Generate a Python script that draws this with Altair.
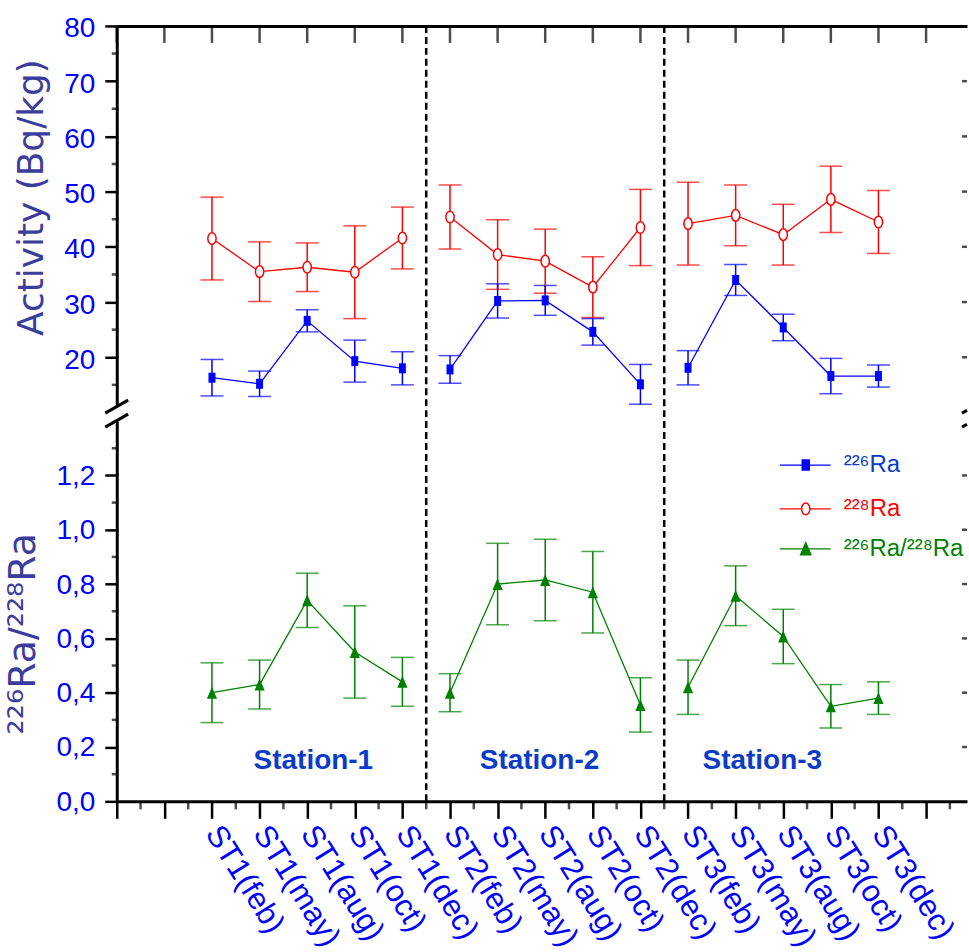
import altair as alt
import pandas as pd

# ---------------- data ----------------
categories = ["ST1(feb)", "ST1(may)", "ST1(aug)", "ST1(oct)", "ST1(dec)",
              "ST2(feb)", "ST2(may)", "ST2(aug)", "ST2(oct)", "ST2(dec)",
              "ST3(feb)", "ST3(may)", "ST3(aug)", "ST3(oct)", "ST3(dec)"]
stations = ["Station-1"] * 5 + ["Station-2"] * 5 + ["Station-3"] * 5

ra226 = [16.3, 15.2, 26.6, 19.3, 18.0, 17.8, 30.2, 30.3, 24.6, 15.1, 18.1, 34.0, 25.4, 16.6, 16.6]
ra226_err = [3.3, 2.3, 2.0, 3.8, 3.0, 2.5, 3.1, 2.7, 2.4, 3.6, 3.1, 2.8, 2.4, 3.2, 2.0]

ra228 = [41.5, 35.5, 36.3, 35.4, 41.6, 45.4, 38.6, 37.4, 32.7, 43.5, 44.2, 45.7, 42.2, 48.6, 44.5]
ra228_err = [7.5, 5.4, 4.4, 8.4, 5.6, 5.8, 6.3, 5.8, 5.5, 6.9, 7.5, 5.5, 5.5, 6.0, 5.7]

ratio = [0.40, 0.43, 0.74, 0.55, 0.44, 0.40, 0.80, 0.815, 0.77, 0.355, 0.42, 0.757, 0.607, 0.35, 0.38]
ratio_err = [0.11, 0.09, 0.10, 0.17, 0.09, 0.07, 0.15, 0.15, 0.15, 0.10, 0.10, 0.11, 0.10, 0.08, 0.06]

station_names = ["Station-1", "Station-2", "Station-3"]
legend_labels = ["\u00b2\u00b2\u2076Ra", "\u00b2\u00b2\u2078Ra", "\u00b2\u00b2\u2076Ra/\u00b2\u00b2\u2078Ra"]

top_major = [20, 30, 40, 50, 60, 70, 80]
top_minor = [15, 25, 35, 45, 55, 65, 75]
bot_major = [0.0, 0.2, 0.4, 0.6, 0.8, 1.0, 1.2]
bot_minor = [0.1, 0.3, 0.5, 0.7, 0.9, 1.1, 1.3]

# ---------------- layout / style ----------------
OFFSET = 2          # first category sits two ticks right of the y axis
W = 852
H_TOP = 381
H_BOT = 381
GAP = 15
XMAX = 17.86

BLUE = "#0000ff"
RED = "#ff0000"
GREEN = "#008000"
TITLE_C = "#3c3c9c"
LABEL_C = "#0000ff"
STATION_C = "#0a3cc8"
FONT = "Liberation Sans"

RECT = "M-0.7,-1H0.7V1H-0.7Z"
ELLIPSE = "M0,-1A0.71,1 0 1,1 0,1A0.71,1 0 1,1 0,-1Z"
TRI = "M0,-1L0.85,1H-0.85Z"

df = pd.DataFrame({
    "cat": categories,
    "station": stations,
    "pos": [i + OFFSET for i in range(len(categories))],
    "ra226": ra226, "ra226_err": ra226_err,
    "ra228": ra228, "ra228_err": ra228_err,
    "ratio": ratio, "ratio_err": ratio_err,
})
for c in ["ra226", "ra228", "ratio"]:
    df[c + "_lo"] = df[c] - df[c + "_err"]
    df[c + "_hi"] = df[c] + df[c + "_err"]

x_major = list(range(0, 18))
x_minor = [i + 0.5 for i in range(0, 18)]

div_df = pd.DataFrame({"x": [4.5 + OFFSET, 9.5 + OFFSET]})
xmaj_df = pd.DataFrame({"t": x_major})
xmin_df = pd.DataFrame({"t": x_minor})
tmin_df = pd.DataFrame({"v": top_minor})
bmin_df = pd.DataFrame({"v": bot_minor})
rtick_top = pd.DataFrame({"v": top_major[:-1]})
rtick_bot = pd.DataFrame({"v": bot_major[1:]})
station_df = pd.DataFrame({"name": station_names, "x": [4.13, 8.88, 13.56], "y": [0.15, 0.15, 0.15]})

xscale = alt.Scale(domain=[0, XMAX], nice=False, zero=False)
ytop = alt.Scale(domain=[11.15, 80], nice=False, zero=False)
ybot = alt.Scale(domain=[0, 1.4], nice=False, zero=False)

x_top = alt.X("pos:Q", scale=xscale,
              axis=alt.Axis(orient="top", labels=False, ticks=False, grid=False, title=None,
                            domainWidth=3, domainColor="black"))

lab_js = "[" + ",".join("'" + c + "'" for c in categories) + "]"
x_bot_axis = alt.Axis(
    values=x_major, grid=False, title=None,
    tickSize=17, tickWidth=2.5, tickColor="black", domainWidth=3, domainColor="black",
    labelExpr=f"(datum.value >= {OFFSET} && datum.value <= {OFFSET + 14}) ? {lab_js}[datum.value - {OFFSET}] : ''",
    labelAngle=58, labelAlign="left", labelBaseline="middle", labelPadding=10,
    labelFont=FONT, labelFontSize=31, labelColor=LABEL_C,
    labelOverlap=False, labelFlush=False, labelBound=False,
)
x_bot = alt.X("pos:Q", scale=xscale, axis=x_bot_axis)

ytop_axis = alt.Axis(
    values=top_major, grid=False, title="Activity (Bq/kg)",
    titleFont="DejaVu Sans", titleFontSize=36, titleColor=TITLE_C, titleFontWeight="normal",
    titleX=-74, titleY=171.5, titleAngle=270, titleBaseline="alphabetic", titleAlign="center",
    tickSize=12, tickWidth=2.5, tickColor="black", domainWidth=3, domainColor="black",
    labelFont=FONT, labelFontSize=28, labelColor=LABEL_C, labelPadding=10, labelOffset=3,
    labelOverlap=False, format="d",
)
ybot_axis = alt.Axis(
    values=bot_major, grid=False, title="\u00b2\u00b2\u2076Ra/\u00b2\u00b2\u2078Ra",
    titleFont="DejaVu Sans", titleFontSize=38, titleColor=TITLE_C, titleFontWeight="normal",
    titleX=-82, titleY=212.5, titleAngle=270, titleBaseline="alphabetic", titleAlign="center",
    tickSize=12, tickWidth=2.5, tickColor="black", domainWidth=3, domainColor="black",
    labelExpr="replace(format(datum.value, '.1f'), '.', ',')",
    labelFont=FONT, labelFontSize=28, labelColor=LABEL_C, labelPadding=10, labelOffset=1,
    labelOverlap=False,
)

base = alt.Chart(df)


def series(ycol, color, shape, size, fill=None):
    lo, hi = ycol + "_lo", ycol + "_hi"
    bar = base.mark_rule(color=color, strokeWidth=1.5).encode(x="pos:Q", y=f"{lo}:Q", y2=f"{hi}:Q")
    cap_lo = base.mark_tick(color=color, orient="horizontal", size=23, thickness=1.5).encode(x="pos:Q", y=f"{lo}:Q")
    cap_hi = base.mark_tick(color=color, orient="horizontal", size=23, thickness=1.5).encode(x="pos:Q", y=f"{hi}:Q")
    line = base.mark_line(color=color, strokeWidth=1.3).encode(
        x="pos:Q", y=f"{ycol}:Q", detail="station:N", order="pos:Q")
    if fill is None:
        pts = base.mark_point(shape=shape, size=size, filled=True, color=color, opacity=1).encode(
            x="pos:Q", y=f"{ycol}:Q")
    else:
        pts = base.mark_point(shape=shape, size=size, filled=True, fill=fill, stroke=color,
                              strokeWidth=1.5, opacity=1).encode(x="pos:Q", y=f"{ycol}:Q")
    return [bar, cap_lo, cap_hi, line, pts]


def ytick_minor(dfm):
    return alt.Chart(dfm).mark_tick(color="black", orient="horizontal", size=5, thickness=2.5).encode(
        x=alt.value(-2.5), y="v:Q")


def ytick_right(dfm):
    return alt.Chart(dfm).mark_tick(color="black", orient="horizontal", size=5, thickness=2.5).encode(
        x=alt.value(W - 2.5), y="v:Q")


# ---------------- top panel ----------------
divider_top = alt.Chart(div_df).mark_rule(color="black", strokeWidth=2.5, strokeDash=[7, 4]).encode(
    x=alt.X("x:Q", scale=xscale), y=alt.value(0), y2=alt.value(H_TOP + GAP))
axis_layer_top = base.mark_point(opacity=0).encode(x=x_top, y=alt.Y("ra226:Q", scale=ytop, axis=ytop_axis))
top_ticks = alt.Chart(xmaj_df).mark_tick(color="black", orient="vertical", size=17, thickness=2.5).encode(
    x="t:Q", y=alt.value(8.5))
slash_layers = []
for (x1, y1, x2, y2) in [(-11.6, 388, 11.4, 375), (-11.6, 402, 11.4, 389),
                         (W - 5, 388, W, 385.2), (W - 5, 402, W, 399.2)]:
    slash_layers.append(alt.Chart(xmaj_df.head(1)).mark_rule(color="black", strokeWidth=3).encode(
        x=alt.value(x1), y=alt.value(y1), x2=alt.value(x2), y2=alt.value(y2)))

top = alt.layer(
    axis_layer_top, divider_top,
    *series("ra228", RED, ELLIPSE, 137, fill="white"),
    *series("ra226", BLUE, RECT, 100),
    top_ticks, ytick_minor(tmin_df), ytick_right(rtick_top), *slash_layers,
).properties(width=W, height=H_TOP)

# ---------------- bottom panel ----------------
divider_bot = alt.Chart(div_df).mark_rule(color="black", strokeWidth=2.5, strokeDash=[7, 4]).encode(
    x=alt.X("x:Q", scale=xscale))
axis_layer_bot = base.mark_point(opacity=0).encode(x=x_bot, y=alt.Y("ratio:Q", scale=ybot, axis=ybot_axis))
x_minor_ticks = alt.Chart(xmin_df).mark_tick(color="black", orient="vertical", size=8, thickness=2.5).encode(
    x="t:Q", y=alt.value(H_BOT + 4))
station_text = alt.Chart(station_df).mark_text(
    font=FONT, fontSize=28, fontWeight="bold", color=STATION_C, align="center", baseline="middle"
).encode(x="x:Q", y="y:Q", text="name:N")

legend_df = pd.DataFrame({
    "label": legend_labels,
    "col": [BLUE, RED, GREEN],
    "tcol": [STATION_C, RED, GREEN],
    "fillc": [BLUE, "white", GREEN],
    "shp": [RECT, ELLIPSE, TRI],
    "sz": [100, 137, 144],
    "ly": [44, 88, 128],
})
leg = alt.Chart(legend_df)
leg_line = leg.mark_rule(strokeWidth=1.3).encode(
    x=alt.value(664.4), x2=alt.value(715.4), y=alt.Y("ly:Q", scale=None),
    color=alt.Color("col:N", scale=None))
leg_pts = leg.mark_point(filled=True, strokeWidth=1.5, opacity=1).encode(
    x=alt.value(690.4), y=alt.Y("ly:Q", scale=None),
    fill=alt.Fill("fillc:N", scale=None), stroke=alt.Stroke("col:N", scale=None),
    shape=alt.Shape("shp:N", scale=None), size=alt.Size("sz:Q", scale=None))
leg_text = leg.mark_text(font=FONT, fontSize=24, align="left", baseline="middle").encode(
    x=alt.value(728.4), y=alt.Y("ly:Q", scale=None), text="label:N",
    color=alt.Color("tcol:N", scale=None))

bottom = alt.layer(
    axis_layer_bot, divider_bot,
    *series("ratio", GREEN, TRI, 144),
    station_text, ytick_minor(bmin_df), ytick_right(rtick_bot), x_minor_ticks,
    leg_line, leg_pts, leg_text,
).properties(width=W, height=H_BOT)

chart = alt.vconcat(top, bottom, spacing=GAP, bounds="flush").configure_view(stroke=None).properties(
    padding={"left": 5, "top": 14, "right": 0, "bottom": 0})

chart.save("out.html", embed_options={"renderer": "svg", "actions": False})
